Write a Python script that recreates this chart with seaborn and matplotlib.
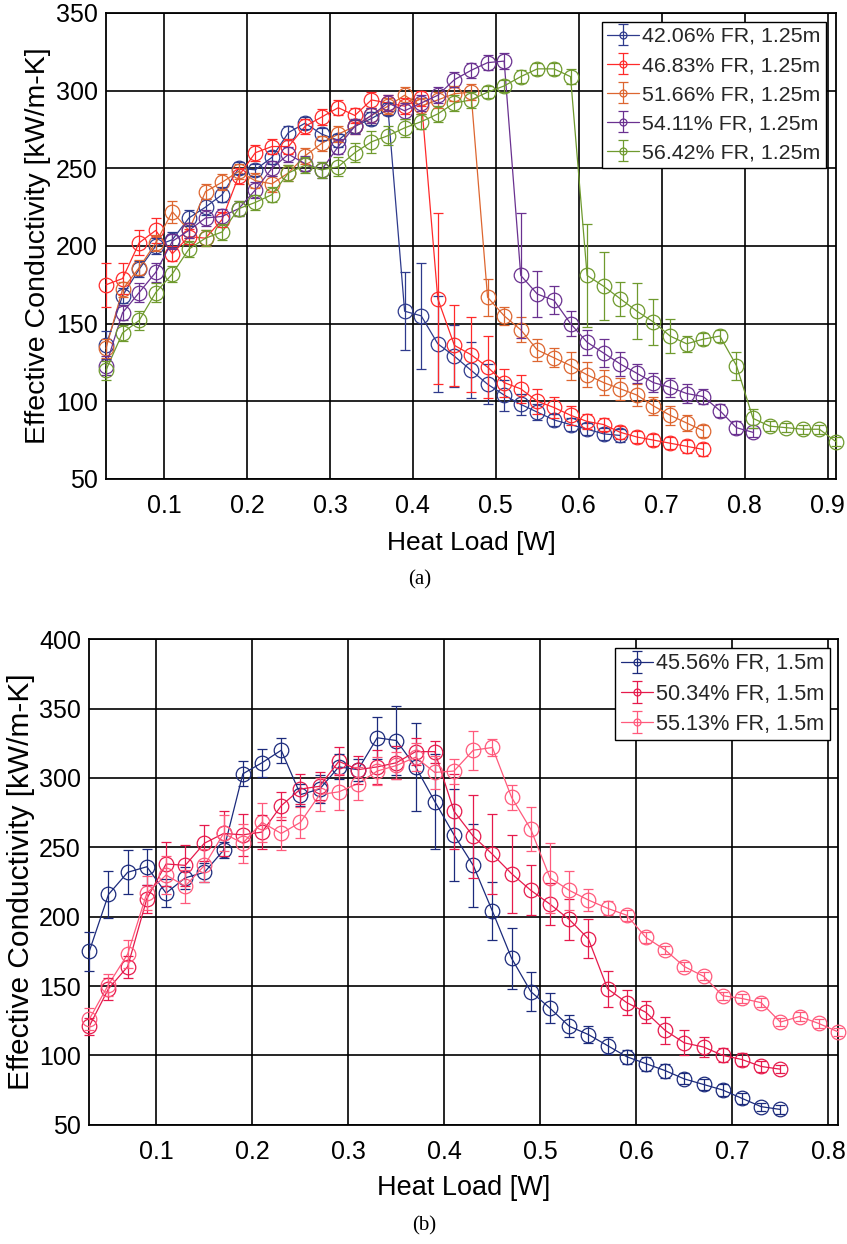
import numpy as np
import pandas as pd
import matplotlib
matplotlib.use("Agg")
import matplotlib.pyplot as plt
import seaborn as sns
from matplotlib.lines import Line2D
from matplotlib.collections import LineCollection
from matplotlib.container import ErrorbarContainer

# ---------------- data: panel (a) ----------------
HEAT_LOAD_A = [0.03, 0.05, 0.07, 0.09, 0.11, 0.13, 0.15, 0.17, 0.19, 0.21,
               0.23, 0.25, 0.27, 0.29, 0.31, 0.33, 0.35, 0.37, 0.39, 0.41,
               0.43, 0.45, 0.47, 0.49, 0.51, 0.53, 0.55, 0.57, 0.59, 0.61,
               0.63, 0.65, 0.67, 0.69, 0.71, 0.73, 0.75, 0.77, 0.79, 0.81,
               0.83, 0.85, 0.87, 0.89, 0.91]
LABELS_A = ["42.06% FR, 1.25m", "46.83% FR, 1.25m", "51.66% FR, 1.25m",
            "54.11% FR, 1.25m", "56.42% FR, 1.25m"]
COLORS_A = ["#2E3A8C", "#FF2A2A", "#DD6630", "#6A3190", "#6F9A2E"]

k_42 = [136, 168, 185, 200, 204, 218, 225, 233, 250, 249, 257, 273, 279, 272, 268, 277,
        282, 288, 158, 155, 137, 129, 120, 111, 104, 98, 93, 88, 85, 82, 79, 78]
e_42 = [9, 5, 5, 5, 5, 5, 5, 5, 4, 4, 4, 4, 4, 4, 4, 4,
        4, 4, 25, 34, 31, 20, 18, 13, 10, 7, 5, 4, 4, 4, 4, 4]
k_46 = [175, 179, 202, 210, 195, 206, 205, 217, 245, 260, 264, 264, 277, 283, 289, 284,
        294, 292, 290, 295, 166, 136, 130, 122, 112, 108, 100, 96, 91, 87, 85, 80,
        77, 75, 73, 71, 69]
e_46 = [14, 10, 8, 8, 5, 5, 5, 5, 5, 5, 5, 5, 5, 5, 5, 5,
        5, 5, 5, 5, 55, 26, 24, 20, 9, 9, 8, 7, 6, 5, 4, 4,
        4, 4, 4, 4, 4]
k_51 = [134, 172, 186, 202, 222, 210, 235, 241, 248, 242, 240, 247, 258, 266, 272, 277,
        284, 290, 297, 290, 294, 298, 299, 167, 155, 146, 133, 128, 123, 117, 112, 108,
        104, 97, 91, 86, 81]
e_51 = [6, 5, 5, 5, 7, 5, 5, 5, 5, 5, 5, 5, 5, 5, 5, 5,
        5, 5, 5, 5, 5, 5, 5, 12, 6, 8, 7, 6, 9, 8, 8, 7,
        7, 6, 6, 5, 4]
k_54 = [123, 157, 170, 183, 203, 210, 218, 219, 224, 236, 250, 259, 253, 249, 264, 277,
        284, 292, 287, 292, 297, 307, 313, 318, 319, 181, 169, 165, 150, 138, 131, 124,
        118, 112, 109, 105, 103, 94, 83, 80]
e_54 = [6, 5, 6, 6, 5, 5, 5, 5, 5, 5, 5, 5, 5, 5, 5, 5,
        5, 5, 5, 5, 5, 5, 5, 5, 5, 40, 15, 9, 8, 8, 9, 8,
        6, 6, 6, 6, 5, 4, 4, 3]
k_56 = [120, 144, 152, 170, 182, 198, 205, 209, 224, 228, 233, 247, 252, 249, 251, 260,
        267, 271, 276, 280, 285, 292, 294, 299, 303, 309, 314, 314, 309, 181, 174, 166,
        158, 151, 142, 137, 140, 142, 123, 89, 84, 83, 82, 82, 74]
e_56 = [6, 5, 6, 6, 5, 5, 5, 5, 5, 5, 5, 5, 5, 5, 6, 6,
        7, 6, 6, 5, 5, 5, 5, 4, 4, 4, 4, 4, 5, 33, 22, 11,
        18, 15, 11, 5, 4, 4, 9, 6, 3, 3, 3, 3, 3]
VALUES_A = [k_42, k_46, k_51, k_54, k_56]
ERRORS_A = [e_42, e_46, e_51, e_54, e_56]

# ---------------- data: panel (b) ----------------
HEAT_LOAD_B = [0.03, 0.05, 0.07, 0.09, 0.11, 0.13, 0.15, 0.17, 0.19, 0.21,
               0.23, 0.25, 0.27, 0.29, 0.31, 0.33, 0.35, 0.37, 0.39, 0.41,
               0.43, 0.45, 0.47, 0.49, 0.51, 0.53, 0.55, 0.57, 0.59, 0.61,
               0.63, 0.65, 0.67, 0.69, 0.71, 0.73, 0.75, 0.77, 0.79, 0.81]
LABELS_B = ["45.56% FR, 1.5m", "50.34% FR, 1.5m", "55.13% FR, 1.5m"]
COLORS_B = ["#1C2B7C", "#E61A4C", "#FF5A7C"]

k_45 = [175, 216, 232, 236, 217, 228, 232, 248, 303, 311, 320, 288, 292, 308, 306, 329,
        327, 308, 283, 259, 237, 204, 170, 146, 134, 121, 115, 107, 99, 94, 89, 83,
        79, 75, 69, 63, 61]
e_45 = [14, 17, 16, 13, 10, 8, 7, 6, 9, 10, 9, 8, 10, 9, 8, 15,
        25, 32, 34, 33, 30, 21, 22, 14, 11, 8, 6, 6, 5, 5, 5, 4,
        4, 4, 4, 3, 3]
k_50 = [121, 148, 164, 213, 238, 237, 253, 260, 259, 261, 280, 292, 294, 312, 306, 308,
        311, 319, 319, 276, 258, 245, 231, 219, 209, 198, 184, 148, 138, 131, 118, 109,
        106, 100, 97, 92, 90]
e_50 = [6, 8, 8, 10, 16, 15, 13, 16, 15, 12, 10, 11, 10, 10, 10, 12,
        12, 10, 8, 27, 30, 29, 28, 18, 15, 15, 14, 13, 9, 8, 10, 9,
        7, 5, 5, 4, 3]
k_55 = [126, 151, 173, 217, 230, 222, 237, 260, 253, 268, 260, 268, 288, 290, 296, 305,
        309, 315, 304, 305, 320, 322, 286, 263, 228, 219, 212, 206, 201, 185, 176, 164,
        157, 143, 141, 138, 124, 128, 123, 117]
e_55 = [8, 8, 10, 12, 14, 12, 12, 13, 14, 14, 12, 11, 12, 13, 12, 10,
        10, 10, 12, 9, 14, 6, 9, 16, 25, 14, 8, 5, 4, 4, 3, 3,
        3, 3, 3, 3, 3, 3, 3, 3]
VALUES_B = [k_45, k_50, k_55]
ERRORS_B = [e_45, e_50, e_55]

# ---------------- style ----------------
sns.set_theme(style="whitegrid")
plt.rcParams['font.family'] = ['Liberation Sans', 'DejaVu Sans']

fig = plt.figure(figsize=(8.47, 12.44), dpi=100)
axA = fig.add_axes([0.1251, 0.6150, 0.8619, 0.3746])
axB = fig.add_axes([0.1054, 0.0959, 0.8839, 0.3902])


def draw(ax, loads, labels, values, errors, colors):
    frames = []
    for lab, v in zip(labels, values):
        frames.append(pd.DataFrame({"load": loads[:len(v)], "k": v, "series": lab}))
    df = pd.concat(frames, ignore_index=True)
    sns.lineplot(data=df, x="load", y="k", hue="series", hue_order=labels,
                 palette=dict(zip(labels, colors)), marker="o", markersize=10.5,
                 markerfacecolor="none", markeredgewidth=0.9, linewidth=0.9,
                 sort=False, legend=False, errorbar=None, ax=ax, zorder=3)
    for line in ax.lines:
        line.set_markeredgecolor(line.get_color())
        line.set_clip_on(False)
    handles = []
    for lab, v, e, c in zip(labels, values, errors, colors):
        cont = ax.errorbar(loads[:len(v)], v, yerr=e, fmt="none", ecolor=c,
                           elinewidth=0.9, capsize=3.5, capthick=0.9, zorder=3)
        for art in cont.get_children():
            art.set_clip_on(False)
        pl = Line2D([], [], color=c, marker="o", markersize=5, markerfacecolor="none",
                    markeredgewidth=0.9, linewidth=0.9)
        cap = Line2D([], [], color=c, marker="_", markersize=7, markeredgewidth=0.9,
                     linestyle="none")
        bar = LineCollection([], colors=c, linewidths=0.9)
        handles.append(ErrorbarContainer((pl, (cap, cap), (bar,)), has_xerr=False,
                                         has_yerr=True, label=lab))
    ax.grid(True, color="black", linewidth=1.2)
    ax.set_axisbelow(True)
    for sp in ax.spines.values():
        sp.set_color("black")
        sp.set_linewidth(1.3)
    ax.tick_params(axis="both", which="both", direction="in", length=4, color="black",
                   labelsize=18, labelcolor="black")
    ax.tick_params(axis="x", pad=11)
    ax.tick_params(axis="y", pad=6)
    return handles


hA = draw(axA, HEAT_LOAD_A, LABELS_A, VALUES_A, ERRORS_A, COLORS_A)
axA.set_xlim(0.03, 0.91)
axA.set_ylim(50, 350)
axA.set_xticks([0.1, 0.2, 0.3, 0.4, 0.5, 0.6, 0.7, 0.8, 0.9])
axA.set_xticklabels(["0.1", "0.2", "0.3", "0.4", "0.5", "0.6", "0.7", "0.8", "0.9"])
axA.set_yticks([50, 100, 150, 200, 250, 300, 350])
axA.set_xlabel("Heat Load [W]", fontsize=19, color="black", labelpad=9)
axA.set_ylabel("Effective Conductivity [kW/m-K]", fontsize=20.5, color="black", labelpad=3)
legA = axA.legend(handles=hA, loc="upper right", bbox_to_anchor=(0.9863, 0.9813),
                  borderaxespad=0, fontsize=15.4, frameon=True, fancybox=False,
                  edgecolor="black", framealpha=1, handlelength=1.5, handletextpad=0.15,
                  labelspacing=0.47, borderpad=0.25)
legA.get_frame().set_linewidth(1.0)

hB = draw(axB, HEAT_LOAD_B, LABELS_B, VALUES_B, ERRORS_B, COLORS_B)
axB.set_xlim(0.03, 0.81)
axB.set_ylim(50, 400)
axB.set_xticks([0.1, 0.2, 0.3, 0.4, 0.5, 0.6, 0.7, 0.8])
axB.set_xticklabels(["0.1", "0.2", "0.3", "0.4", "0.5", "0.6", "0.7", "0.8"])
axB.set_yticks([50, 100, 150, 200, 250, 300, 350, 400])
axB.set_xlabel("Heat Load [W]", fontsize=19.5, color="black", labelpad=8)
axB.set_ylabel("Effective Conductivity [kW/m-K]", fontsize=21.5, color="black", labelpad=3)
legB = axB.legend(handles=hB, loc="upper right", bbox_to_anchor=(0.9893, 0.982),
                  borderaxespad=0, fontsize=15.6, frameon=True, fancybox=False,
                  edgecolor="black", framealpha=1, handlelength=1.5, handletextpad=0.15,
                  labelspacing=0.42, borderpad=0.25)
legB.get_frame().set_linewidth(1.0)

fig.text(420 / 847, 1 - 580 / 1244, "(a)", family=["Liberation Serif", "DejaVu Serif"],
         fontsize=15, ha="center", va="center", color="black")
fig.text(424 / 847, 1 - 1226 / 1244, "(b)", family=["Liberation Serif", "DejaVu Serif"],
         fontsize=15, ha="center", va="center", color="black")

fig.savefig("out.png", dpi=100, facecolor="white")
